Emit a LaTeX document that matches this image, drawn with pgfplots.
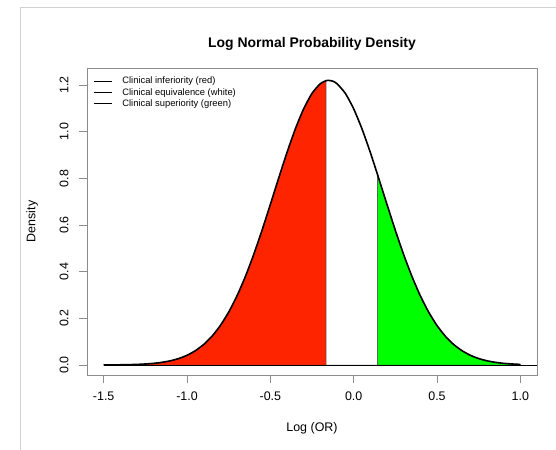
\documentclass[border=0pt]{standalone}
\usepackage{pgfplots}
\pgfplotsset{compat=1.18}
\usepackage{pgfplotstable}
\usepackage{fontspec}
\setmainfont{Liberation Sans}
\definecolor{boxgray}{HTML}{8C8C8C}
\definecolor{framegray}{HTML}{D0D0D0}
\definecolor{infred}{HTML}{FF2400}
\definecolor{supgreen}{HTML}{00FF00}

% density of the log odds ratio
\pgfplotstableread{
x y
-1.50 0.000243
-1.45 0.000451
-1.40 0.000819
-1.35 0.001453
-1.30 0.002516
-1.25 0.004258
-1.20 0.007037
-1.15 0.01137
-1.10 0.01793
-1.05 0.02762
-1.00 0.04160
-0.95 0.06120
-0.90 0.08793
-0.85 0.1234
-0.80 0.1692
-0.75 0.2266
-0.70 0.2965
-0.65 0.3790
-0.60 0.4732
-0.55 0.5773
-0.50 0.6880
-0.45 0.8009
-0.40 0.9109
-0.35 1.0119
-0.30 1.0981
-0.25 1.1643
-0.20 1.2058
-0.165 1.2187
}\inferior
\pgfplotstableread{
x y
-0.165 1.2187
-0.15 1.2200
-0.125 1.2164
-0.10 1.2058
-0.05 1.1643
0.00 1.0981
0.05 1.0119
0.10 0.9109
0.144 0.8143
}\equivalent
\pgfplotstableread{
x y
0.144 0.8143
0.15 0.8009
0.20 0.6880
0.25 0.5773
0.30 0.4732
0.35 0.3790
0.40 0.2965
0.45 0.2266
0.50 0.1692
0.55 0.1234
0.60 0.0879
0.65 0.0612
0.70 0.0416
0.75 0.0276
0.80 0.0179
0.85 0.0114
0.90 0.0070
0.95 0.0043
1.00 0.0025
}\superior

\begin{document}
\begin{tikzpicture}
\path[use as bounding box] (0,0) rectangle (556bp,450bp);
\draw[framegray, line width=0.8bp] (20bp,0) -- (20bp,443bp) -- (556bp,443bp);
\begin{axis}[
    at={(87bp,75bp)}, anchor=south west,
    scale only axis, width=450bp, height=307bp,
    xmin=-1.6, xmax=1.1, ymin=-0.0429, ymax=1.273,
    axis line style={draw=boxgray, line width=0.8bp},
    xtick={-1.5,-1,-0.5,0,0.5,1}, ytick={0,0.2,...,1.2},
    xticklabels={-1.5,-1.0,-0.5,0.0,0.5,1.0},
    yticklabels={0.0,0.2,0.4,0.6,0.8,1.0,1.2},
    tick align=outside, major tick length=8bp,
    tick style={draw=boxgray, line width=0.8bp},
    xtick pos=bottom, ytick pos=left,
    /pgf/number format/assume math mode=true,
    tick label style={font=\fontsize{12.5}{14}\selectfont},
    xticklabel shift=5bp,
    yticklabel shift=7bp,
    yticklabel style={rotate=90, anchor=south},
    title={Log Normal Probability Density},
    title style={at={(0.5,1)}, anchor=center, yshift=18bp,
        font=\bfseries\fontsize{14}{16}\selectfont},
    xlabel={Log (OR)},
    xlabel style={at={(axis description cs:0.5,0)}, anchor=center, yshift=-53bp,
        font=\fontsize{12.5}{14}\selectfont},
    ylabel={Density},
    every axis y label/.style={at={(axis description cs:-0.122,0.5)}, rotate=90, anchor=center,
        font=\fontsize{12.5}{14}\selectfont},
    legend style={draw=none, fill=none, at={(axis description cs:0,1)}, anchor=north west,
        xshift=5.5bp, yshift=-6bp, font=\fontsize{9.4}{11}\selectfont,
        row sep=-1.1bp, inner sep=1bp},
    legend cell align=left,
    legend image code/.code={\draw[black, line width=1bp] (0bp,0bp) -- (17.5bp,0bp); \path (26bp,0bp);},
]
\addplot[fill=infred, draw=black!70, line width=0.4bp, forget plot] table {\inferior} \closedcycle;
\addplot[fill=white, draw=black!70, line width=0.4bp, forget plot] table {\equivalent} \closedcycle;
\addplot[fill=supgreen, draw=black!70, line width=0.4bp, forget plot] table {\superior} \closedcycle;
\addplot[black, line width=0.6bp, forget plot] coordinates {(-1.5,0) (1.1,0)};
\addplot[black, line width=1.6bp, smooth, tension=0.4, forget plot] table {\inferior};
\addplot[black, line width=1.6bp, smooth, tension=0.4, forget plot] table {\equivalent};
\addplot[black, line width=1.6bp, smooth, tension=0.4, forget plot] table {\superior};
\addlegendimage{black}
\addlegendentry{Clinical inferiority (red)}
\addlegendimage{black}
\addlegendentry{Clinical equivalence (white)}
\addlegendimage{black}
\addlegendentry{Clinical superiority (green)}
\end{axis}
\end{tikzpicture}
\end{document}
